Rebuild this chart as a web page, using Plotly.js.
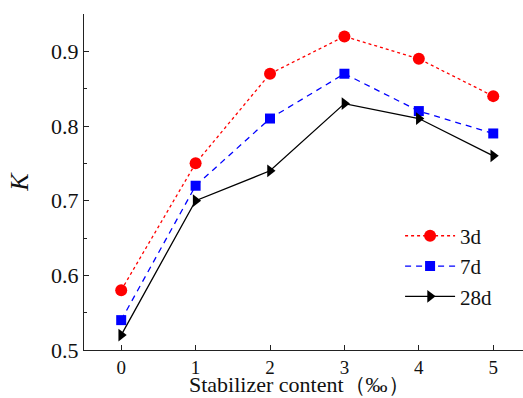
<!DOCTYPE html>
<html>
<head>
<meta charset="utf-8">
<script src="https://cdn.plot.ly/plotly-3.0.1.min.js"></script>
<style>html,body{margin:0;padding:0;background:#fff;}#chart{width:523px;height:398px;}</style>
</head>
<body>
<div id="chart"></div>
<script>
const content = [0, 1, 2, 3, 4, 5];
const k3d = [0.58, 0.75, 0.87, 0.92, 0.89, 0.84];
const k7d = [0.54, 0.72, 0.81, 0.87, 0.82, 0.79];
const k28d = [0.52, 0.70, 0.74, 0.83, 0.81, 0.76];
const seriesNames = ['3d', '7d', '28d'];
const xTitle = 'Stabilizer content（‰）';

const font = 'Liberation Serif, DejaVu Serif, serif';
const traces = [
  {x: content, y: k3d, name: seriesNames[0], mode: 'lines+markers', type: 'scatter',
   line: {color: '#ff0000', dash: 'dot', width: 1.3},
   marker: {symbol: 'circle', size: 12, color: '#ff0000'}},
  {x: content, y: k7d, name: seriesNames[1], mode: 'lines+markers', type: 'scatter',
   line: {color: '#0000ff', dash: '6px,5px', width: 1.3},
   marker: {symbol: 'square', size: 10, color: '#0000ff'}},
  {x: content, y: k28d, name: seriesNames[2], mode: 'lines+markers', type: 'scatter',
   line: {color: '#000000', width: 1.3},
   marker: {symbol: 'triangle-right', size: 11, color: '#000000'}}
];
const layout = {
  width: 523, height: 398,
  margin: {l: 84, r: 0, t: 14, b: 48},
  paper_bgcolor: '#fff', plot_bgcolor: '#fff',
  font: {family: font, size: 22, color: '#111'},
  showlegend: true,
  legend: {x: 0.72, y: 0.40, xanchor: 'left', yanchor: 'top', bgcolor: 'rgba(0,0,0,0)',
           font: {family: font, size: 21, color: '#111'}, itemwidth: 50, tracegroupgap: 0},
  xaxis: {range: [-0.5, 5.4], tickvals: content, ticks: 'inside', ticklen: 5, tickcolor: '#222',
          showline: true, linecolor: '#222', linewidth: 1.2, showgrid: false, zeroline: false,
          tickfont: {family: font, size: 19}, mirror: false},
  yaxis: {range: [0.5, 0.95], tickvals: [0.5, 0.6, 0.7, 0.8, 0.9], ticks: 'inside', ticklen: 5,
          tickcolor: '#222', showline: true, linecolor: '#222', linewidth: 1.2, showgrid: false,
          zeroline: false, tickfont: {family: font, size: 22},
          minor: {tickvals: [0.55, 0.65, 0.75, 0.85, 0.95], ticks: 'inside', ticklen: 3, tickcolor: '#222'},
          title: {text: '<i>K</i>', font: {family: font, size: 26}, standoff: 14}},
  annotations: [{text: xTitle, xref: 'paper', yref: 'paper', x: 0.492, y: 0,
                 xanchor: 'center', yanchor: 'bottom', yshift: -48, showarrow: false,
                 borderpad: 0, font: {family: font, size: 22, color: '#111'}}]
};
Plotly.newPlot('chart', traces, layout, {displayModeBar: false, staticPlot: true});
</script>
</body>
</html>
